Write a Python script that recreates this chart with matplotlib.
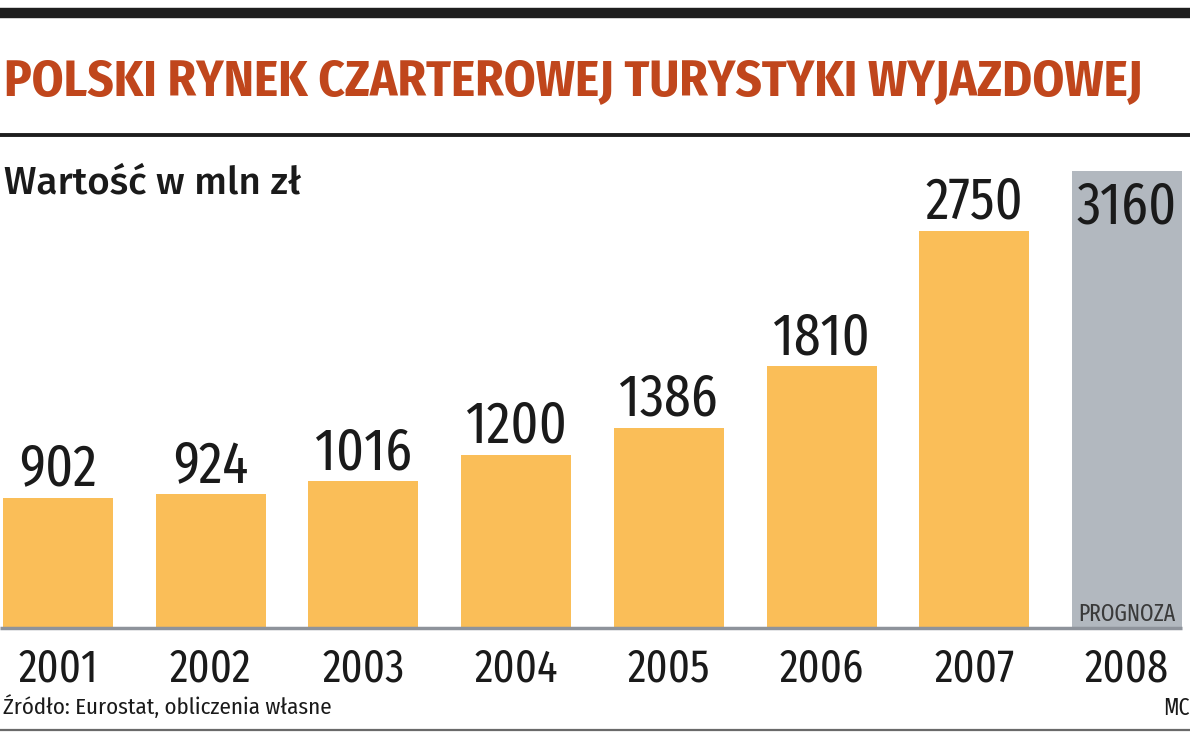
import matplotlib
matplotlib.use("Agg")
import matplotlib.pyplot as plt
from matplotlib.lines import Line2D
from matplotlib import font_manager as fm

years = ["2001", "2002", "2003", "2004", "2005", "2006", "2007", "2008"]
values = [902, 924, 1016, 1200, 1386, 1810, 2750, 3160]
forecast = [False, False, False, False, False, False, False, True]

title = "POLSKI RYNEK CZARTEROWEJ TURYSTYKI WYJAZDOWEJ"
subtitle = "Wartość w mln zł"
source = "Źródło: Eurostat, obliczenia własne"
forecast_label = "PROGNOZA"
author = "MC"

names = {f.name for f in fm.fontManager.ttflist}
def pick(*cands):
    for c in cands:
        if c in names:
            return [c, "DejaVu Sans"]
    return ["DejaVu Sans"]

FAM = pick("Fira Sans Condensed", "Encode Sans Semi Condensed", "Liberation Sans")
FAM_NUM = pick("Fira Sans Extra Condensed", "Fira Sans Condensed", "Liberation Sans")
FAM_T = pick("Fira Sans Condensed", "Liberation Sans")
FAM_SUB = pick("Fira Sans", "Liberation Sans")

ORANGE = "#FABE58"
GREY_BAR = "#B2B8BF"
TITLE_C = "#C0461C"
TEXT_C = "#1a1a1a"

W, H = 1200, 752
fig = plt.figure(figsize=(12, 7.52), dpi=100)
fig.patch.set_facecolor("white")

def fy(py):
    return (H - py) / H

def fx(px):
    return px / W

spacing = 152.7
x0 = -58 / spacing
x1 = 7 + (W - 1127) / spacing
ppu = 0.1445
ytop = 3350
ax = fig.add_axes([0, fy(628), 1, ytop * ppu / H])
ax.set_xlim(x0, x1)
ax.set_ylim(0, ytop)
ax.axis("off")

xs = list(range(len(years)))
colors = [GREY_BAR if f else ORANGE for f in forecast]
ax.bar(xs, values, width=0.72, color=colors, edgecolor="none", zorder=2)

ax.plot([x0, 7 + 0.36], [0, 0], color="#8E939B", lw=2.5, solid_capstyle="butt",
        zorder=3, clip_on=False)

PT = 0.72
for x, v, f in zip(xs, values, forecast):
    if f:
        ax.annotate(str(v), (x, v), xytext=(0, -52 * PT), textcoords="offset points",
                    ha="center", va="baseline", fontsize=42, family=FAM_NUM,
                    color=TEXT_C, zorder=4)
        ax.annotate(forecast_label, (x, 0), xytext=(0, 7 * PT), textcoords="offset points",
                    ha="center", va="baseline", fontsize=17, family=FAM_NUM,
                    color="#3a3a3a", zorder=4)
    else:
        ax.annotate(str(v), (x, v), xytext=(0, 12 * PT), textcoords="offset points",
                    ha="center", va="baseline", fontsize=42, family=FAM_NUM,
                    color=TEXT_C, zorder=4)
    ax.annotate(years[x], (x, 0), xytext=(0, -53 * PT), textcoords="offset points",
                ha="center", va="baseline", fontsize=33, family=FAM_NUM,
                color=TEXT_C, zorder=4)

fig.add_artist(Line2D([0, fx(1190)], [fy(13), fy(13)], color="#1e1e1e", lw=7.5,
                      solid_capstyle="butt"))
fig.add_artist(Line2D([0, fx(1190)], [fy(135), fy(135)], color="#1e1e1e", lw=2.8,
                      solid_capstyle="butt"))
fig.add_artist(Line2D([0, fx(1190)], [fy(730), fy(730)], color="#6a6a6a", lw=1.6,
                      solid_capstyle="butt"))

t = fig.text(fx(4), fy(95), title, fontsize=34, fontweight="bold", family=FAM_T,
             color=TITLE_C, ha="left", va="baseline")
s = fig.text(fx(4), fy(193), subtitle, fontsize=26, family=FAM_SUB, fontweight="medium",
             color=TEXT_C, ha="left", va="baseline")
fig.text(fx(3), fy(714), source, fontsize=16.5, family=FAM,
         color=TEXT_C, ha="left", va="baseline")
fig.text(fx(1190), fy(715), author, fontsize=17, family=FAM_NUM,
         color=TEXT_C, ha="right", va="baseline")

# fit title and subtitle widths to the reference spans
r = fig.canvas.get_renderer()
t.set_fontsize(34 * 1139 / t.get_window_extent(r).width)
s.set_fontsize(26 * 297 / s.get_window_extent(r).width)

fig.savefig("out.png", dpi=100, facecolor="white")
